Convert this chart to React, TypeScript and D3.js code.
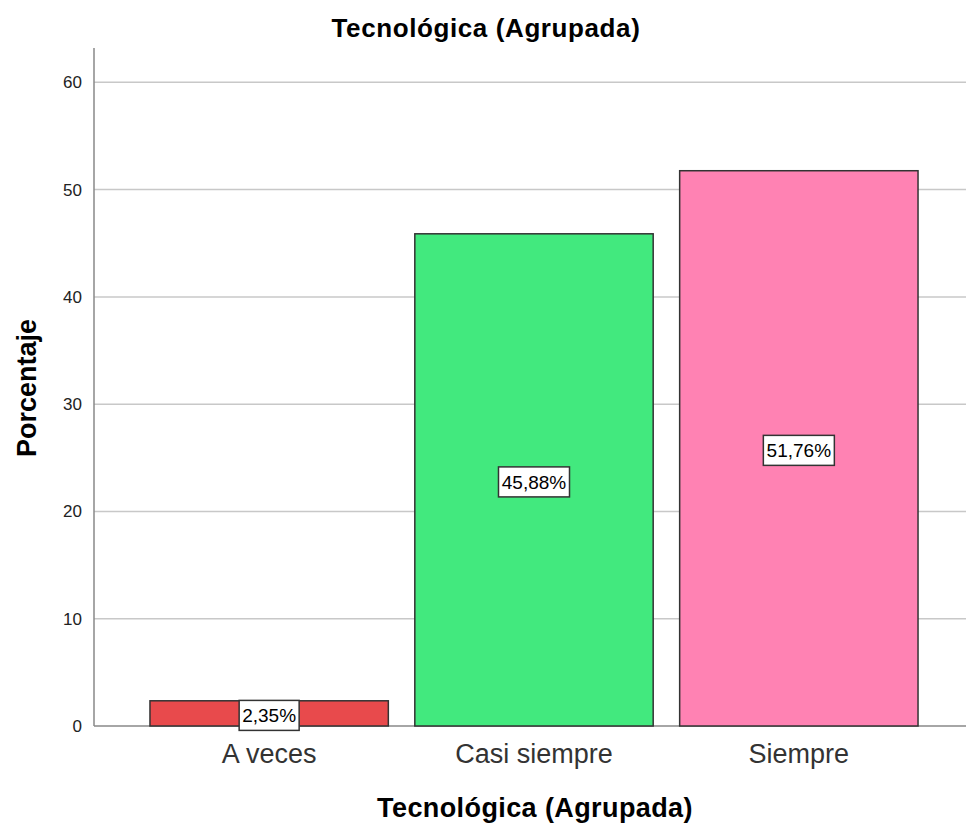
import React from 'react';
import * as d3 from 'd3';

const categories = ['A veces', 'Casi siempre', 'Siempre'];
const percentages = [2.35, 45.88, 51.76];
const barColors = ['#e84a4c', '#42e97e', '#ff82b3'];
const yTicks = [0, 10, 20, 30, 40, 50, 60];

const W = 967;
const H = 825;
const FONT = '"Liberation Sans", Arial, sans-serif';

export default function App() {
  const y = d3.scaleLinear().domain([0, 63.2]).range([726, 48]);
  const x = d3.scaleBand<string>()
    .domain(categories)
    .range([97, 971])
    .paddingInner(0.1)
    .paddingOuter(0.2);
  const fmt = (v: number) => v.toFixed(2).replace('.', ',') + '%';

  return (
    <div style={{ position: 'absolute', left: 0, top: 0 }}>
      <svg width={W} height={H} style={{ display: 'block', fontFamily: FONT }}>
        <rect width={W} height={H} fill="#fff" />
        <text x={486} y={37} textAnchor="middle" fontSize={26} fontWeight="bold" fill="#000" letterSpacing={0.6}>
          Tecnológica (Agrupada)
        </text>

        {/* gridlines + tick labels */}
        {yTicks.map(t => (
          <g key={t}>
            {t > 0 && <line x1={94} x2={966} y1={y(t)} y2={y(t)} stroke="#c8c8c8" strokeWidth={1.5} />}
            <text x={82} y={y(t) + 6} textAnchor="end" fontSize={17} fill="#222">{t}</text>
          </g>
        ))}

        <line x1={94} x2={94} y1={48} y2={726} stroke="#888" strokeWidth={1.5} />
        <line x1={94} x2={966} y1={726} y2={726} stroke="#888" strokeWidth={1.5} />

        {categories.map((c, i) => {
          const v = percentages[i];
          const x0 = x(c) as number;
          const bw = x.bandwidth();
          const cx = x0 + bw / 2;
          const cy = y(v / 2) + 2;
          const label = fmt(v);
          const boxW = label.length * 11 + 5;
          return (
            <g key={c}>
              <rect x={x0} y={y(v)} width={bw} height={y(0) - y(v)} fill={barColors[i]} stroke="#333" strokeWidth={1.5} />
              <rect x={cx - boxW / 2} y={cy - 15} width={boxW} height={30} fill="#fff" stroke="#333" strokeWidth={1.5} />
              <text x={cx} y={cy + 7} textAnchor="middle" fontSize={19} fill="#000">{label}</text>
              <text x={cx} y={763} textAnchor="middle" fontSize={27} fill="#333">{c}</text>
            </g>
          );
        })}

        <text x={535} y={817} textAnchor="middle" fontSize={27} fontWeight="bold" fill="#000" letterSpacing={0.4}>
          Tecnológica (Agrupada)
        </text>
        <text transform="translate(36,388) rotate(-90)" textAnchor="middle" fontSize={27} fontWeight="bold" fill="#000">
          Porcentaje
        </text>
      </svg>
    </div>
  );
}
